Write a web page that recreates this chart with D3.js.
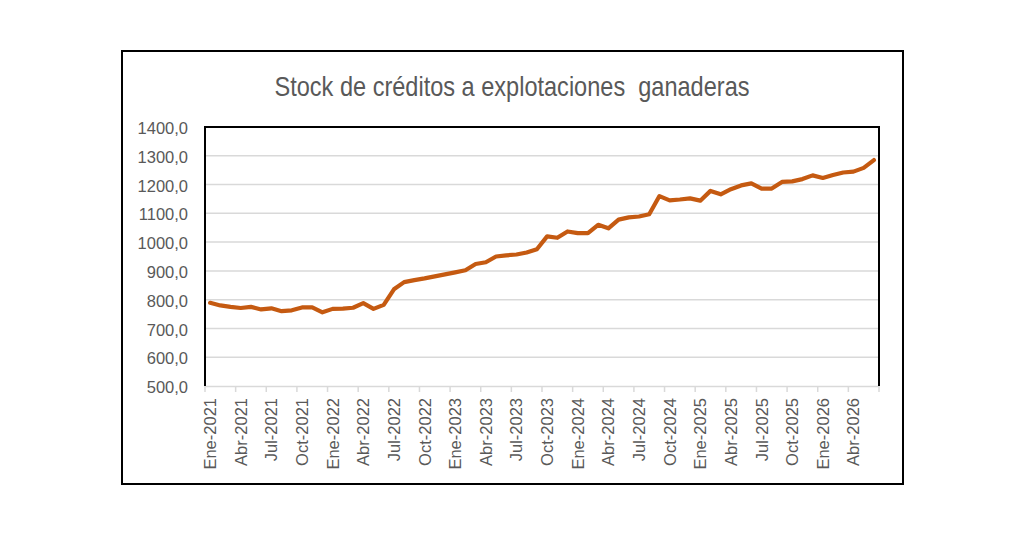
<!DOCTYPE html>
<html>
<head>
<meta charset="utf-8">
<script src="https://cdn.jsdelivr.net/npm/d3@7"></script>
<style>
  body { margin: 0; background: #fff; }
  svg { display: block; }
</style>
</head>
<body>
<svg></svg>
<script>
// datos mensuales, Ene-2021 .. Jun-2026
let meses = ["Ene", "Feb", "Mar", "Abr", "May", "Jun", "Jul", "Ago", "Sep", "Oct", "Nov", "Dic"];
let years = [2021, 2022, 2023, 2024, 2025, 2026];

let stock = [
  789, 780, 775, 771, 775, 766, 770, 760, 763, 773, 773, 756,
  768, 769, 772, 788, 768, 782, 836, 861, 868, 874, 881, 888,
  895, 902, 924, 930, 950, 954, 957, 964, 975, 1020, 1015, 1037,
  1031, 1031, 1060, 1048, 1078, 1086, 1089, 1097, 1160, 1145, 1148, 1152,
  1144, 1178, 1166, 1184, 1197, 1204, 1186, 1186, 1209, 1211, 1219, 1232,
  1223, 1233, 1242, 1245, 1258, 1285
];

let yTicks = [500, 600, 700, 800, 900, 1000, 1100, 1200, 1300, 1400];

let titulo = "Stock de créditos a explotaciones\u00a0 ganaderas";

let categorias = [];
years.forEach((y) => {
  meses.forEach((m) => categorias.push(m + "-" + y));
});
categorias = categorias.slice(0, stock.length);

let values = categorias.map((c, i) => ({ cat: c, val: stock[i] }));

let width = 1024;
let height = 535;
let plot = { left: 205, right: 879, top: 127, bottom: 386 };
let fuente = "Liberation Sans, Arial, sans-serif";

let svg = d3.select("svg").attr("width", width).attr("height", height);

let xScale = d3.scaleBand()
  .domain(categorias)
  .range([plot.left, plot.right])
  .padding(0);

let yScale = d3.scaleLinear()
  .domain([500, 1400])
  .range([plot.bottom, plot.top]);

// marco exterior
svg.append("rect")
  .attr("x", 122).attr("y", 51)
  .attr("width", 781).attr("height", 433)
  .attr("fill", "#fff")
  .attr("stroke", "#000")
  .attr("stroke-width", 2);

// titulo
svg.append("text")
  .attr("x", 512)
  .attr("y", 96)
  .attr("text-anchor", "middle")
  .attr("font-family", fuente)
  .attr("font-size", 28)
  .attr("fill", "#595959")
  .attr("textLength", 475)
  .attr("lengthAdjust", "spacingAndGlyphs")
  .text(titulo);

// rejilla
svg.append("g")
  .selectAll("line")
  .data(yTicks.slice(1, -1))
  .enter()
  .append("line")
  .attr("x1", plot.left)
  .attr("x2", plot.right)
  .attr("y1", (d) => yScale(d))
  .attr("y2", (d) => yScale(d))
  .attr("stroke", "#d9d9d9")
  .attr("stroke-width", 1.5);

// eje y
let yAxis = d3.axisLeft(yScale)
  .tickValues(yTicks)
  .tickSize(0)
  .tickPadding(17)
  .tickFormat((d) => d3.format(".1f")(d).replace(".", ","));

let gy = svg.append("g")
  .attr("id", "y-axis")
  .attr("transform", "translate(" + plot.left + ",0)")
  .call(yAxis);
gy.select(".domain").remove();
gy.selectAll("text")
  .attr("font-family", fuente)
  .attr("font-size", 16.5)
  .attr("fill", "#595959")
  .attr("dy", "0.4em");

// eje x
let labelCats = categorias.filter((c, i) => i % 3 === 0);

let xAxis = d3.axisBottom(xScale)
  .tickValues(labelCats)
  .tickSize(0)
  .tickPadding(0);

let gx = svg.append("g")
  .attr("id", "x-axis")
  .attr("transform", "translate(0," + plot.bottom + ")")
  .call(xAxis);
gx.select(".domain").remove();
gx.selectAll("text")
  .attr("font-family", fuente)
  .attr("font-size", 16.5)
  .attr("fill", "#595959")
  .attr("text-anchor", "end")
  .attr("transform", "translate(0,12) rotate(-90)")
  .attr("x", 0)
  .attr("y", 0)
  .attr("dy", "0.36em");

gx.append("line")
  .attr("x1", plot.left)
  .attr("x2", plot.right)
  .attr("y1", 0.5)
  .attr("y2", 0.5)
  .attr("stroke", "#d9d9d9")
  .attr("stroke-width", 1.5);

gx.selectAll(".marca")
  .data(labelCats.concat(["fin"]))
  .enter()
  .append("line")
  .attr("class", "marca")
  .attr("x1", (d) => d === "fin" ? plot.right : xScale(d))
  .attr("x2", (d) => d === "fin" ? plot.right : xScale(d))
  .attr("y1", 0)
  .attr("y2", 6)
  .attr("stroke", "#d9d9d9")
  .attr("stroke-width", 1.5);

// borde del area de trazado (arriba, izquierda, derecha)
svg.append("path")
  .attr("d", "M" + plot.left + "," + plot.bottom + "V" + plot.top + "H" + plot.right + "V" + plot.bottom)
  .attr("fill", "none")
  .attr("stroke", "#000")
  .attr("stroke-width", 2);

// linea
let line = d3.line()
  .x((d) => xScale(d.cat) + xScale.bandwidth() / 2)
  .y((d) => yScale(d.val));

svg.append("path")
  .datum(values)
  .attr("d", line)
  .attr("fill", "none")
  .attr("stroke", "#c55a11")
  .attr("stroke-width", 4.2)
  .attr("stroke-linejoin", "round")
  .attr("stroke-linecap", "round");
</script>
</body>
</html>
